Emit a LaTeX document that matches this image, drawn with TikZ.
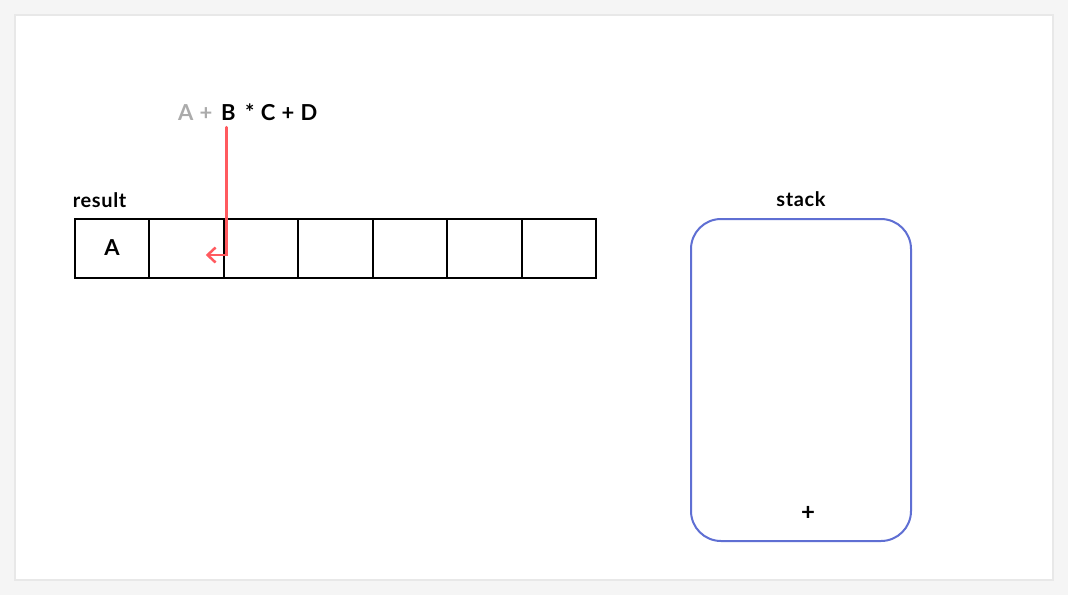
\documentclass[tikz,border=0pt]{standalone}
\usepackage{fontspec}
\setmainfont{Lato}
\newfontfamily\tagfont[LetterSpace=3]{Lato}
\newfontfamily\exprfont[LetterSpace=4]{Lato}
\usetikzlibrary{positioning,arrows.meta}
\definecolor{pointred}{HTML}{FF5A5F}
\definecolor{stackblue}{HTML}{5F6FD3}
\definecolor{donegray}{HTML}{ABABAB}
\tikzstyle{cell} = [rectangle, draw, line width=2pt, outer sep=0pt,
    minimum width=74.5pt, minimum height=59pt, font=\exprfont\fontsize{22}{24}\selectfont\bfseries]
\tikzstyle{tag} = [font=\tagfont\fontsize{20}{22}\selectfont\bfseries, inner sep=0pt]
\tikzstyle{expr} = [font=\exprfont\fontsize{22}{24}\selectfont\bfseries, inner sep=0pt]
\tikzstyle{stackbox} = [rectangle, draw=stackblue, line width=2pt, rounded corners=30pt,
    minimum width=220pt, minimum height=322pt]
\tikzstyle{pointer} = [draw=pointred, line width=2.5pt, line cap=round,
    -{Straight Barb[length=8pt,width=15pt]}]

\begin{document}
\begin{tikzpicture}[x=1pt, y=-1pt, node distance=74.5pt]
	
		\useasboundingbox (0,0) rectangle (1068,595);
		\fill[black!4] (0,0) rectangle (1068,595);
		\draw[black!9, line width=2pt, fill=white] (15,15) rectangle (1053,580);
		
		% expression
		\node [expr, text=donegray, anchor=base west] (done) at (178,120) {A +};
		\node [expr, anchor=base west] (tok) at (221,120) {B};
		\node [expr, anchor=base west] (rest) at (245,120) {* C + D};
		
		% result row
		\node [cell] (c0) at (112,248) {A};
		\foreach \i [count=\j from 0] in {1,...,6}
			\node [cell, right of=c\j] (c\i) {};
		\node [tag, anchor=south west] (result) at ([xshift=-2pt,yshift=11pt]c0.north west) {result};
		
		% stack
		\node [stackbox] (stack) at (801,380) {};
		\node [tag, anchor=south] (stacklbl) at ([yshift=11pt]stack.north) {stack};
		\node [expr, font=\exprfont\fontsize{24}{26}\selectfont\bfseries] (plus) at ([xshift=7pt,yshift=29pt]stack.south) {+};
		
		\path [pointer] ([xshift=-2pt,yshift=-7pt]tok.south) |- ([xshift=-18pt,yshift=-7pt]c1.east);
	\end{tikzpicture}
\end{document}
